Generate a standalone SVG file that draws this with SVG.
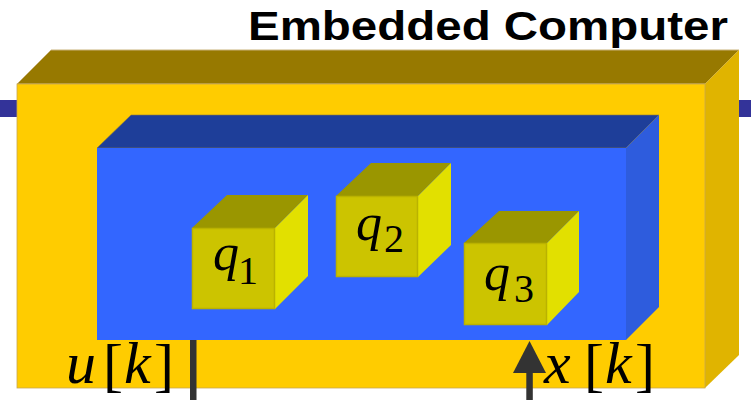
<svg xmlns="http://www.w3.org/2000/svg" width="751" height="400" viewBox="0 0 751 400">
<defs>
<style>
.title{font-family:"Liberation Sans",Arial,sans-serif;font-weight:bold;fill:#000}
.math{font-family:"Liberation Serif","Times New Roman",serif;fill:#000}
.it{font-style:italic}
.cfront{fill:#CCC400;stroke:#BAB200;stroke-width:1.5}
.ctop{fill:#9A9600}
.cright{fill:#E2E000}
.conn{fill:#333333;stroke:none}
</style>
</defs>
<rect width="751" height="400" fill="#FFFFFF"/>

<g id="bus">
<rect x="0" y="100" width="18" height="17" fill="#333399"/>
<rect x="739" y="100" width="12" height="17" fill="#333399"/>
</g>

<g id="embedded-computer">
<polygon points="17,84 51,50 739,50 705,84" fill="#977900" stroke="#C9B27A" stroke-width="1"/>
<polygon points="705,84 739,50 739,355 705,388" fill="#E0B400"/>
<rect x="17" y="84" width="688" height="304" fill="#FFCC00" stroke="#C8A850" stroke-width="0.8"/>
</g>

<g id="connectors">
<rect class="conn" x="190" y="340" width="6.5" height="60"/>
<rect class="conn" x="526.3" y="372" width="6.5" height="28"/>
<polygon class="conn" points="529.5,341 513,373 546,373"/>
</g>

<g id="processor">
<polygon points="97,148 131,115 659,115 626,148" fill="#1E3E99" stroke="#8A7A40" stroke-width="0.6"/>
<polygon points="626,148 659,115 659,307 626,340" fill="#2E5CDD"/>
<rect x="97" y="148" width="529" height="192" fill="#3366FF"/>
</g>

<g id="q1">
<polygon class="ctop" points="192,228 227,195 308,195 275,228"/>
<polygon class="cright" points="275,228 308,195 308,276 275,309"/>
<rect class="cfront" x="192.5" y="228.5" width="82" height="80"/>
<text class="math" font-size="52"><tspan class="it" x="213" y="270">q</tspan><tspan x="238" y="284" font-size="40">1</tspan></text>
</g>

<g id="q2">
<polygon class="ctop" points="336,196 371,163 451,163 418,196"/>
<polygon class="cright" points="418,196 451,163 451,245 418,277"/>
<rect class="cfront" x="336.5" y="196.5" width="81" height="80"/>
<text class="math" font-size="52"><tspan class="it" x="356" y="240">q</tspan><tspan x="384" y="252" font-size="40">2</tspan></text>
</g>

<g id="q3">
<polygon class="ctop" points="464,243 499,211 579,211 547,243"/>
<polygon class="cright" points="547,243 579,211 579,292 547,325"/>
<rect class="cfront" x="464.5" y="243.5" width="82" height="81"/>
<text class="math" font-size="52"><tspan class="it" x="484" y="290">q</tspan><tspan x="514" y="302" font-size="40">3</tspan></text>
</g>

<g id="labels">
<text class="title" x="248" y="40" font-size="41" textLength="480" lengthAdjust="spacingAndGlyphs">Embedded Computer</text>
<text class="math" font-size="60" y="383"><tspan class="it" x="66">u</tspan><tspan x="103" y="385">[</tspan><tspan class="it" x="124" y="383">k</tspan><tspan x="154" y="385">]</tspan></text>
<text class="math" font-size="60" y="383"><tspan class="it" x="544">x</tspan><tspan x="584" y="385">[</tspan><tspan class="it" x="605" y="383">k</tspan><tspan x="635" y="385">]</tspan></text>
</g>
</svg>
